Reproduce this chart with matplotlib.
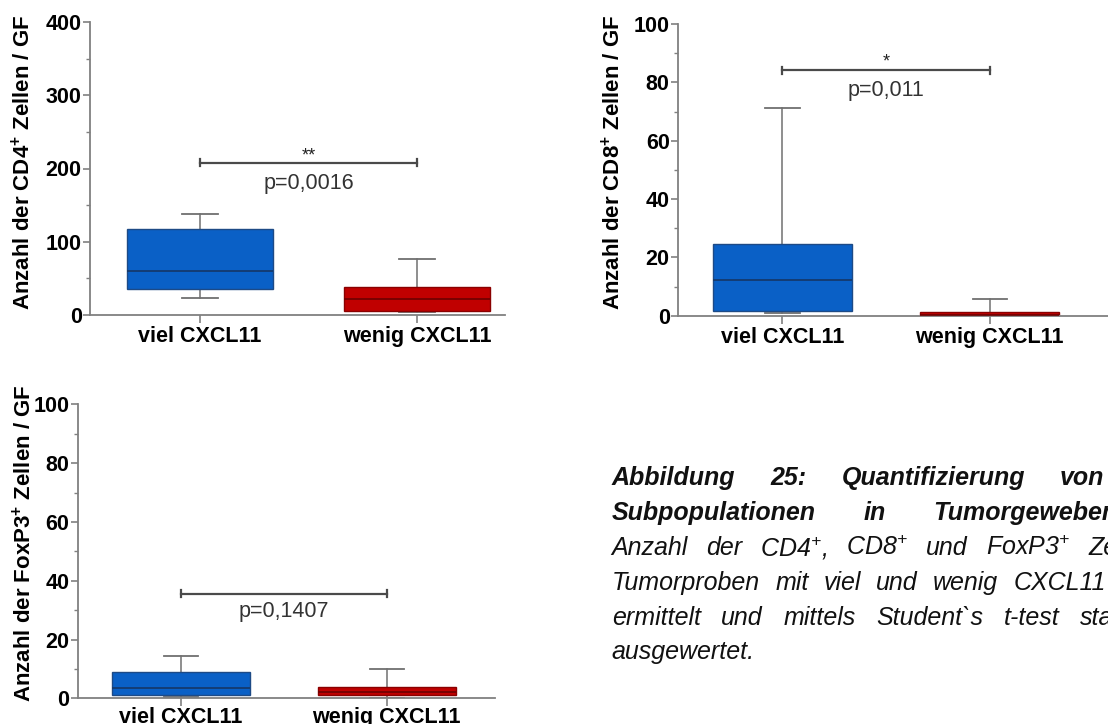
import matplotlib
matplotlib.use("Agg")
from matplotlib import pyplot as plt
from matplotlib.ticker import MultipleLocator

plt.rcParams["font.family"] = ["Liberation Sans", "DejaVu Sans"]
plt.rcParams["mathtext.fontset"] = "custom"
plt.rcParams["mathtext.rm"] = "Liberation Sans"
plt.rcParams["mathtext.it"] = "Liberation Sans:italic"
plt.rcParams["mathtext.bf"] = "Liberation Sans:bold"
plt.rcParams["mathtext.default"] = "regular"

# group names
groups = ["viel CXCL11", "wenig CXCL11"]

# box stats per panel: [viel, wenig]
cd4_whislo = [23.6, 4.5]
cd4_q1 = [35.5, 6.0]
cd4_med = [60.0, 21.8]
cd4_q3 = [117.0, 37.8]
cd4_whishi = [138.0, 76.0]

cd8_whislo = [0.8, 0.0]
cd8_q1 = [1.7, 0.0]
cd8_med = [12.2, 0.3]
cd8_q3 = [24.5, 1.4]
cd8_whishi = [71.1, 5.8]

foxp3_whislo = [0.4, 0.0]
foxp3_q1 = [1.1, 1.1]
foxp3_med = [3.4, 2.1]
foxp3_q3 = [8.8, 3.7]
foxp3_whishi = [14.5, 9.9]

# significance annotations
cd4_sig = (208, "**", "p=0,0016")
cd8_sig = (84.1, "*", "p=0,011")
foxp3_sig = (35.6, "", "p=0,1407")

W, H = 1108, 724
fig = plt.figure(figsize=(W / 100, H / 100), dpi=100)

box_colors = ["#0a60c6", "#c00000"]
edge_colors = ["#1d4a86", "#8a0000"]
med_colors = ["#163766", "#6e0000"]
axis_grey = "#808080"


def px_axes(left, right, top, bottom):
    return fig.add_axes([left / W, 1 - bottom / H, (right - left) / W, (bottom - top) / H])


def panel(ax, whislo, q1, med, q3, whishi, ymax, major, minor, xlim, sig, text_offs, xpad):
    stats = []
    for i in range(2):
        stats.append({"whislo": whislo[i], "q1": q1[i], "med": med[i],
                      "q3": q3[i], "whishi": whishi[i], "fliers": []})
    bp = ax.bxp(stats, positions=[1, 2], widths=0.67, capwidths=0.165,
                patch_artist=True, showfliers=False, manage_ticks=False,
                whiskerprops=dict(color="#707070", linewidth=1.1, zorder=1),
                capprops=dict(color="#707070", linewidth=1.3, zorder=1),
                medianprops=dict(linewidth=1.2, zorder=3),
                boxprops=dict(linewidth=1.0, zorder=2))
    for i, b in enumerate(bp["boxes"]):
        b.set_facecolor(box_colors[i])
        b.set_edgecolor(edge_colors[i])
        b.set_zorder(2)
    for i, m in enumerate(bp["medians"]):
        m.set_color(med_colors[i])

    ax.set_xlim(*xlim)
    ax.set_ylim(0, ymax)
    ax.yaxis.set_major_locator(MultipleLocator(major))
    ax.yaxis.set_minor_locator(MultipleLocator(minor))
    ax.set_xticks([1, 2])
    ax.set_xticklabels(groups, fontsize=15.5, fontweight="bold")
    for lab in ax.get_yticklabels():
        lab.set_fontsize(15.5)
        lab.set_fontweight("bold")
    ax.tick_params(axis="y", which="major", length=5, width=1.2, color=axis_grey, pad=1)
    ax.tick_params(axis="y", which="minor", length=3, width=1.0, color=axis_grey)
    ax.tick_params(axis="x", length=6, width=1.2, color=axis_grey, pad=xpad)
    for s in ["top", "right"]:
        ax.spines[s].set_visible(False)
    for s in ["left", "bottom"]:
        ax.spines[s].set_color(axis_grey)
        ax.spines[s].set_linewidth(1.3)
    ax.set_facecolor("none")

    # significance bar
    y, stars, ptxt = sig
    ax.plot([1, 2], [y, y], color="#4a4a4a", lw=1.6, clip_on=False, zorder=4)
    tick_h = ymax * 0.012
    for xx in [1, 2]:
        ax.plot([xx, xx], [y - tick_h, y + tick_h], color="#4a4a4a", lw=1.6,
                clip_on=False, zorder=4)
    if stars:
        ax.text(1.5, y + text_offs[0], stars, ha="center", va="center",
                fontsize=13, color="#222222")
    ax.text(1.5, y - text_offs[1], ptxt, ha="center", va="center",
            fontsize=15.5, color="#333333")


ax1 = px_axes(90, 505, 22, 315)
panel(ax1, cd4_whislo, cd4_q1, cd4_med, cd4_q3, cd4_whishi, 400, 100, 50,
      (0.493, 2.405), cd4_sig, (9, 29), 2)

ax2 = px_axes(678, 1110, 24, 315.7)
panel(ax2, cd8_whislo, cd8_q1, cd8_med, cd8_q3, cd8_whishi, 100, 20, 10,
      (0.496, 2.58), cd8_sig, (3, 7), 2)

ax3 = px_axes(77.7, 495, 404.3, 698.3)
panel(ax3, foxp3_whislo, foxp3_q1, foxp3_med, foxp3_q3, foxp3_whishi, 100, 20, 10,
      (0.5, 2.526), foxp3_sig, (3, 6.2), 0)

# y labels
ylabels = [("Anzahl der CD4$^{+}$ Zellen / GF", 23, 162),
           ("Anzahl der CD8$^{+}$ Zellen / GF", 613, 162),
           ("Anzahl der FoxP3$^{+}$ Zellen / GF", 24, 543)]
for txt, x, y in ylabels:
    fig.text(x / W, 1 - y / H, txt, rotation=90, ha="center", va="center",
             fontsize=16, fontweight="bold")

# caption: justified lines, (y, weight, words, left x, x of last word start / None, right end)
caption = [
    (478, "bold", ["Abbildung", "25:", "Quantifizierung", "von"], 611.7, 1060, None),
    (513, "bold", ["Subpopulationen", "in", "Tumorgeweben"], 611.7, 933, None),
    (548, "normal", ["Anzahl", "der", "CD4$^{+}$,", "CD8$^{+}$", "und", "FoxP3$^{+}$", "Zellen"],
     611.7, 1088, None),
    (583, "normal", ["Tumorproben", "mit", "viel", "und", "wenig", "CXCL11"], 611.7, None, 1106),
    (618, "normal", ["ermittelt", "und", "mittels", "Student`s", "t-test", "statistisch"],
     611.7, 1080, None),
    (652, "normal", ["ausgewertet."], 611.7, None, None),
]
cap_size = 18
renderer = fig.canvas.get_renderer()
for y, weight, words, x0, xlast, xend in caption:
    texts = [fig.text(0, 1 - y / H, w, ha="left", va="center", fontsize=cap_size,
                      fontstyle="italic", fontweight=weight, color="#111111")
             for w in words]
    widths = [t.get_window_extent(renderer).width for t in texts]
    if len(words) > 1:
        if xlast is None:
            xlast = xend - widths[-1]
        gap = (xlast - x0 - sum(widths[:-1])) / (len(words) - 1)
    else:
        gap = 0
    x = x0
    for t, w in zip(texts, widths):
        t.set_x(x / W)
        x += w + gap

fig.savefig("out.png", dpi=100)
